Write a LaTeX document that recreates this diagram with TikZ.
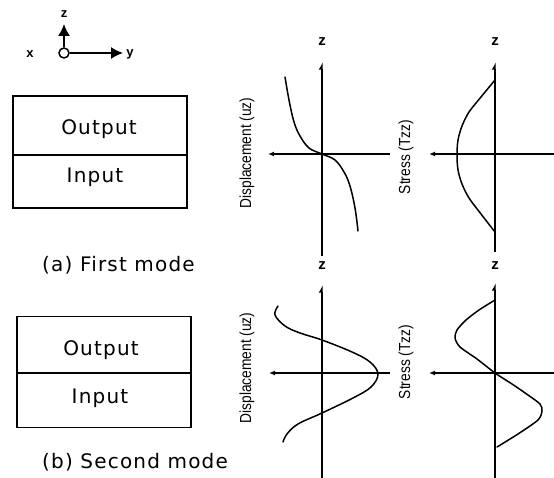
\documentclass[tikz,border=0pt]{standalone}
\usepackage{fontspec}
\setmainfont{DejaVu Sans}
\newfontfamily\boxfont[LetterSpace=6]{DejaVu Sans}
\newfontfamily\axfont{Liberation Sans}
\usetikzlibrary{arrows.meta}

\tikzset{
  boxtext/.style={font=\boxfont\fontsize{20}{23}\selectfont, inner sep=0pt},
  caption/.style={font=\boxfont\fontsize{20}{23}\selectfont, inner sep=0pt, anchor=west},
  zlabel/.style={font=\axfont\bfseries\fontsize{15}{16}\selectfont, inner sep=0pt},
  triadlabel/.style={font=\axfont\bfseries\fontsize{13}{14}\selectfont, inner sep=0pt},
  quantity/.style={font=\axfont\fontsize{16}{17}\selectfont, rotate=90, inner sep=0pt},
  frame/.style={line width=1.6pt},
  axisline/.style={line width=1.6pt},
  vaxis/.style={axisline, -{Latex[left,length=6pt,width=7pt]}},
  haxis/.style={axisline, -{Latex[length=6pt,width=5pt]}},
  curve/.style={line width=1.5pt, line join=round, line cap=round},
  triad/.style={line width=1.5pt, -{Latex[length=12pt,width=12pt]}}
}

\begin{document}
\begin{tikzpicture}[x=1pt,y=-1pt]
\useasboundingbox (0,0) rectangle (554,478);

% ---- coordinate triad ----
\node[draw, circle, line width=1.5pt, minimum size=10pt, inner sep=0pt] (o) at (64,53) {};
\coordinate (ztip) at (64,24);
\coordinate (ytip) at (123,53);
\draw[triad] (o.north) -- (ztip);
\draw[triad] (o.east) -- (ytip);
\node[triadlabel] (zt) at (64,14) {z};
\node[triadlabel] (xt) at (30,54) {x};
\node[triadlabel] (yt) at (130,54) {y};

% ---- first mode: layered block ----
\node[draw, frame, minimum width=174pt, minimum height=112pt, inner sep=0pt] (blockA) at (100,152) {};
\draw[frame] ([yshift=-3pt]blockA.west) -- ([yshift=-3pt]blockA.east);
\node[boxtext] (outA) at (99,129) {Output};
\node[boxtext] (inA) at (95,177) {Input};
\node[caption] (capA) at (42,265) {(a) First mode};

% ---- first mode: displacement plot ----
\coordinate (d1o) at (322,154);
\coordinate (d1top) at (322,62);
\coordinate (d1bot) at (322,256);
\coordinate (d1l) at (268,154);
\coordinate (d1r) at (390,154);
\draw[vaxis] (d1bot) -- (d1top);
\draw[haxis] (d1r) -- (d1l);
\node[zlabel] (z1) at (322,42) {z};
\node[quantity] (q1) at (247,153) {\scalebox{0.86}[1]{Displacement (uz)}};
\draw[curve] plot[smooth, tension=0.6] coordinates {
  (285,77) (289,100) (294,122) (300,136) (309,148) (322,154)
  (335,160) (344,172) (350,186) (355,208) (358,231)};

% ---- first mode: stress plot ----
\coordinate (s1o) at (495,154);
\coordinate (s1top) at (495,62);
\coordinate (s1bot) at (495,252);
\coordinate (s1l) at (429,154);
\coordinate (s1r) at (554,154);
\draw[vaxis] (s1bot) -- (s1top);
\draw[haxis] (s1r) -- (s1l);
\node[zlabel] (z2) at (495,42) {z};
\node[quantity] (q2) at (406,157) {\scalebox{0.86}[1]{Stress (Tzz)}};
\draw[curve] plot[smooth, tension=0.5] coordinates {
  (495,80) (481,97) (469,112) (462,126) (458,140) (457,155)
  (458,170) (462,184) (469,198) (481,214) (495,232)};

% ---- second mode: layered block ----
\node[draw, frame, minimum width=174pt, minimum height=111pt, inner sep=0pt] (blockB) at (104,372) {};
\draw[frame] ([yshift=-1pt]blockB.west) -- ([yshift=-1pt]blockB.east);
\node[boxtext] (outB) at (101,350) {Output};
\node[boxtext] (inB) at (100,398) {Input};
\node[caption] (capB) at (42,462) {(b) Second mode};

% ---- second mode: displacement plot ----
\coordinate (d2o) at (322,373);
\coordinate (d2top) at (322,285);
\coordinate (d2bot) at (322,478);
\coordinate (d2l) at (269,373);
\coordinate (d2r) at (390,373);
\draw[vaxis] (d2bot) -- (d2top);
\draw[haxis] (d2r) -- (d2l);
\node[zlabel] (z3) at (322,266) {z};
\node[quantity] (q3) at (247,368) {\scalebox{0.86}[1]{Displacement (uz)}};
\draw[curve] plot[smooth, tension=0.6] coordinates {
  (278,306) (275,315) (285,326) (300,333) (322,340) (352,352)
  (370,362) (378,374) (371,387) (353,398) (322,413) (298,424)
  (287,434) (283,442)};

% ---- second mode: stress plot ----
\coordinate (s2o) at (495,373);
\coordinate (s2top) at (495,283);
\coordinate (s2bot) at (495,478);
\coordinate (s2l) at (429,373);
\coordinate (s2r) at (554,373);
\draw[vaxis] (s2bot) -- (s2top);
\draw[haxis] (s2r) -- (s2l);
\node[zlabel] (z4) at (495,266) {z};
\node[quantity] (q4) at (406,362) {\scalebox{0.86}[1]{Stress (Tzz)}};
\draw[curve] plot[smooth, tension=0.45] coordinates {
  (495,300) (479,310) (466,320) (457,330) (455,338) (460,347)
  (477,359) (495,373) (512,384) (528,395) (540,404) (542,411)
  (538,420) (518,434) (497,447)};
\end{tikzpicture}
\end{document}
